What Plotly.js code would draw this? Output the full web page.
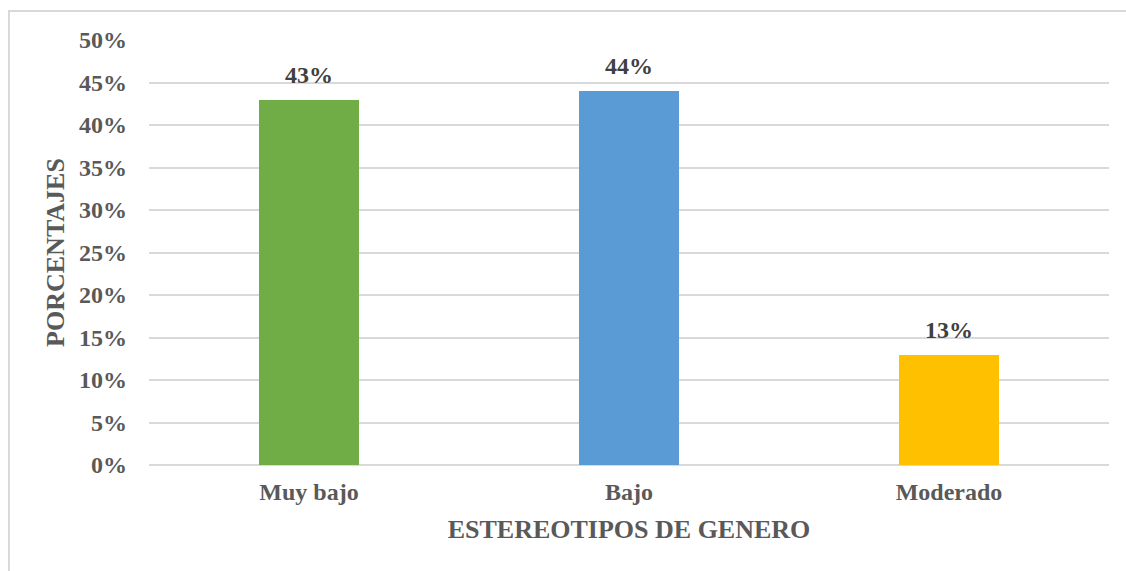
<!DOCTYPE html>
<html>
<head>
<meta charset="utf-8">
<script src="https://cdn.plot.ly/plotly-3.0.1.min.js"></script>
<style>
  html, body { margin: 0; padding: 0; background: #fff; overflow: hidden; }
  #frame { position: absolute; left: 8px; top: 10px; width: 1130px; height: 600px; border-left: 2px solid #d9d9d9; border-top: 2px solid #d9d9d9; box-sizing: border-box; pointer-events: none; }
  #chart { position: absolute; left: 0; top: 0; width: 1126px; height: 571px; }
</style>
</head>
<body>
<div id="chart"></div>
<div id="frame"></div>
<script>
const categories = ["Muy bajo", "Bajo", "Moderado"];
const values = [43, 44, 13];
const labels = ["43%", "44%", "13%"];
const barColors = ["#70AD47", "#5B9BD5", "#FFC000"];
const yTickVals = [0, 5, 10, 15, 20, 25, 30, 35, 40, 45, 50];
const yTickText = ["0%", "5%", "10%", "15%", "20%", "25%", "30%", "35%", "40%", "45%", "50%"];

const FONT = '"Liberation Serif", "Times New Roman", serif';

const trace = {
  type: 'bar',
  x: categories,
  y: values,
  width: 0.3125,
  marker: { color: barColors },
  hoverinfo: 'none'
};

const annotations = categories.map((c, i) => ({
  x: c, y: values[i], xref: 'x', yref: 'y',
  text: '<b>' + labels[i] + '</b>',
  showarrow: false, yanchor: 'bottom', yshift: 10,
  font: { family: FONT, size: 24, color: '#404040' }
}));

const layout = {
  width: 1126, height: 571,
  margin: { l: 149, r: 17, t: 40, b: 106 },
  paper_bgcolor: 'rgba(0,0,0,0)',
  plot_bgcolor: '#ffffff',
  showlegend: false,
  bargap: 0,
  font: { family: FONT, size: 24, color: '#595959' },
  xaxis: {
    type: 'category',
    showgrid: false, zeroline: false, showline: false,
    ticks: '',
    ticklabelstandoff: 10,
    tickfont: { family: FONT, size: 24, color: '#595959', weight: 'bold' },
    title: { text: '<b>ESTEREOTIPOS DE GENERO</b>', font: { family: FONT, size: 26, color: '#595959' }, standoff: 15 }
  },
  yaxis: {
    range: [0, 50],
    tickvals: yTickVals,
    ticktext: yTickText,
    showgrid: true, gridcolor: '#d9d9d9', gridwidth: 2,
    zeroline: true, zerolinecolor: '#d9d9d9', zerolinewidth: 2,
    showline: false, ticks: '',
    ticklabelstandoff: 21,
    tickfont: { family: FONT, size: 24, color: '#595959', weight: 'bold' },
    title: { text: '<b>PORCENTAJES</b>', font: { family: FONT, size: 26, color: '#595959' }, standoff: 6 }
  },
  annotations: annotations
};

Plotly.newPlot('chart', [trace], layout, { displayModeBar: false, staticPlot: true });
</script>
</body>
</html>
